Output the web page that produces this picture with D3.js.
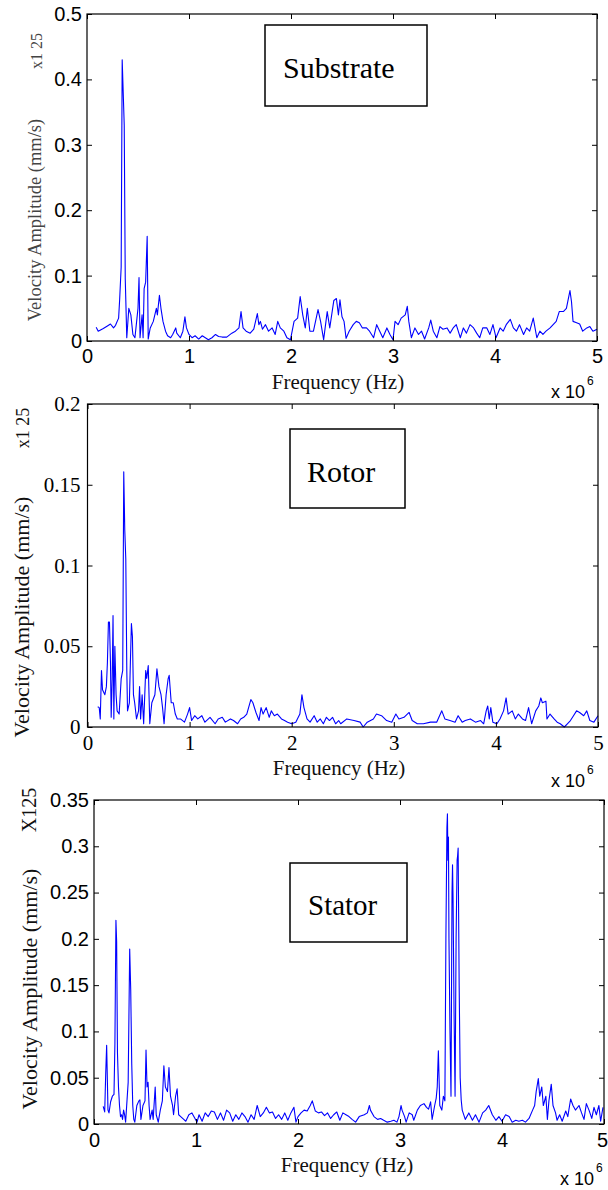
<!DOCTYPE html>
<html>
<head>
<meta charset="utf-8">
<script src="https://cdn.jsdelivr.net/npm/d3@7"></script>
<style>
  body { margin: 0; background: #fff; }
</style>
</head>
<body>
<svg id="chart" width="608" height="1190"></svg>
<script>
// frequency in units of 1e6 Hz, amplitude in mm/s
const substrateSpectrum = [
  [0.09,0.021],[0.11,0.015],[0.16,0.019],[0.2,0.023],[0.23,0.026],[0.26,0.02],[0.28,0.024],[0.29,0.028],
  [0.31,0.035],[0.32,0.063],[0.335,0.113],[0.345,0.43],[0.355,0.38],[0.365,0.33],[0.375,0.095],[0.39,0.005],
  [0.41,0.05],[0.43,0.04],[0.45,0.01],[0.47,0.005],[0.49,0.035],[0.5,0.05],[0.51,0.097],[0.52,0.005],
  [0.54,0.04],[0.55,0.005],[0.56,0.08],[0.575,0.09],[0.59,0.16],[0.6,0.003],[0.62,0.02],[0.65,0.03],
  [0.68,0.05],[0.69,0.04],[0.71,0.07],[0.725,0.05],[0.745,0.03],[0.77,0.015],[0.79,0.008],[0.82,0.005],
  [0.84,0.01],[0.87,0.02],[0.88,0.012],[0.915,0.005],[0.94,0.015],[0.96,0.037],[0.975,0.02],[1.0,0.01],
  [1.03,0.005],[1.06,0.008],[1.095,0.003],[1.13,0.008],[1.16,0.005],[1.19,0.002],[1.225,0.005],[1.26,0.01],
  [1.29,0.007],[1.325,0.006],[1.37,0.006],[1.42,0.012],[1.455,0.015],[1.49,0.02],[1.51,0.045],[1.53,0.02],
  [1.56,0.015],[1.6,0.012],[1.635,0.018],[1.67,0.042],[1.685,0.025],[1.7,0.03],[1.72,0.018],[1.75,0.025],
  [1.78,0.015],[1.815,0.02],[1.845,0.01],[1.87,0.03],[1.895,0.02],[1.93,0.015],[1.96,0.005],[1.995,0.002],
  [2.03,0.03],[2.065,0.035],[2.09,0.068],[2.115,0.04],[2.14,0.02],[2.16,0.05],[2.185,0.015],[2.22,0.015],
  [2.265,0.048],[2.29,0.03],[2.32,0.002],[2.355,0.045],[2.38,0.02],[2.42,0.062],[2.445,0.065],[2.465,0.04],
  [2.48,0.063],[2.5,0.037],[2.52,0.03],[2.54,0.004],[2.57,0.015],[2.61,0.025],[2.64,0.03],[2.67,0.028],
  [2.7,0.02],[2.74,0.02],[2.77,0.015],[2.81,0.005],[2.84,0.025],[2.87,0.015],[2.9,0.005],[2.94,0.02],
  [2.97,0.01],[3.0,0.002],[3.02,0.03],[3.05,0.025],[3.08,0.035],[3.12,0.04],[3.14,0.053],[3.155,0.03],
  [3.18,0.005],[3.215,0.02],[3.25,0.01],[3.28,0.015],[3.31,0.003],[3.35,0.02],[3.37,0.032],[3.395,0.015],
  [3.43,0.005],[3.46,0.022],[3.49,0.018],[3.53,0.02],[3.56,0.012],[3.59,0.02],[3.62,0.025],[3.66,0.005],
  [3.69,0.02],[3.72,0.012],[3.755,0.025],[3.79,0.02],[3.82,0.012],[3.85,0.005],[3.88,0.02],[3.92,0.02],
  [3.95,0.01],[3.98,0.025],[4.01,0.005],[4.05,0.02],[4.08,0.015],[4.11,0.025],[4.15,0.033],[4.18,0.02],
  [4.21,0.015],[4.24,0.025],[4.28,0.01],[4.31,0.02],[4.34,0.015],[4.375,0.035],[4.41,0.005],[4.44,0.015],
  [4.47,0.01],[4.5,0.015],[4.54,0.02],[4.57,0.025],[4.6,0.03],[4.63,0.045],[4.67,0.045],[4.7,0.05],
  [4.735,0.077],[4.75,0.06],[4.765,0.03],[4.8,0.028],[4.83,0.026],[4.86,0.015],[4.9,0.02],[4.93,0.022],
  [4.96,0.015],[5.0,0.018]
];

const rotorSpectrum = [
  [0.1,0.0125],[0.115,0.012],[0.125,0.005],[0.137,0.035],[0.147,0.023],[0.17,0.02],[0.185,0.025],[0.195,0.04],
  [0.205,0.065],[0.215,0.065],[0.225,0.04],[0.232,0.006],[0.242,0.03],[0.25,0.069],[0.258,0.005],[0.268,0.05],
  [0.28,0.02],[0.29,0.01],[0.31,0.008],[0.33,0.03],[0.345,0.035],[0.355,0.158],[0.365,0.122],[0.375,0.104],
  [0.385,0.035],[0.392,0.01],[0.41,0.015],[0.42,0.04],[0.43,0.064],[0.44,0.056],[0.45,0.02],[0.462,0.015],
  [0.48,0.005],[0.5,0.01],[0.51,0.025],[0.52,0.005],[0.535,0.02],[0.55,0.002],[0.57,0.035],[0.58,0.03],
  [0.595,0.038],[0.61,0.002],[0.63,0.015],[0.66,0.02],[0.68,0.036],[0.7,0.025],[0.72,0.02],[0.735,0.012],
  [0.75,0.002],[0.77,0.02],[0.79,0.03],[0.8,0.032],[0.82,0.015],[0.84,0.015],[0.86,0.008],[0.88,0.005],
  [0.91,0.005],[0.95,0.003],[0.98,0.008],[1.0,0.012],[1.02,0.004],[1.05,0.007],[1.08,0.005],[1.12,0.007],
  [1.15,0.003],[1.2,0.006],[1.25,0.002],[1.28,0.005],[1.32,0.006],[1.35,0.003],[1.4,0.005],[1.43,0.004],
  [1.47,0.002],[1.5,0.005],[1.53,0.006],[1.56,0.008],[1.6,0.017],[1.62,0.015],[1.65,0.009],[1.68,0.004],
  [1.7,0.012],[1.72,0.008],[1.75,0.012],[1.78,0.006],[1.8,0.01],[1.83,0.007],[1.86,0.008],[1.9,0.005],
  [1.93,0.004],[1.96,0.003],[2.0,0.002],[2.04,0.003],[2.08,0.008],[2.1,0.02],[2.12,0.012],[2.15,0.005],
  [2.18,0.003],[2.22,0.007],[2.25,0.003],[2.28,0.005],[2.31,0.002],[2.34,0.006],[2.37,0.004],[2.4,0.006],
  [2.43,0.002],[2.46,0.004],[2.48,0.002],[2.54,0.005],[2.61,0.004],[2.67,0.003],[2.7,0.0],[2.74,0.003],
  [2.8,0.005],[2.83,0.008],[2.88,0.007],[2.93,0.004],[2.98,0.003],[3.02,0.008],[3.05,0.005],[3.1,0.006],
  [3.15,0.009],[3.18,0.004],[3.23,0.002],[3.29,0.002],[3.36,0.003],[3.42,0.003],[3.47,0.01],[3.5,0.005],
  [3.55,0.004],[3.6,0.003],[3.63,0.007],[3.67,0.003],[3.7,0.004],[3.75,0.005],[3.8,0.003],[3.85,0.004],
  [3.88,0.002],[3.905,0.01],[3.92,0.013],[3.935,0.005],[3.95,0.012],[3.97,0.003],[4.01,0.002],[4.04,0.005],
  [4.075,0.01],[4.1,0.018],[4.12,0.008],[4.16,0.01],[4.19,0.005],[4.22,0.008],[4.26,0.005],[4.29,0.004],
  [4.32,0.012],[4.35,0.002],[4.39,0.01],[4.42,0.013],[4.44,0.018],[4.455,0.015],[4.49,0.016],[4.5,0.005],
  [4.53,0.008],[4.57,0.005],[4.6,0.003],[4.63,0.002],[4.67,0.0],[4.7,0.002],[4.73,0.004],[4.76,0.007],
  [4.79,0.01],[4.82,0.009],[4.86,0.007],[4.89,0.01],[4.92,0.004],[4.96,0.003],[5.0,0.007]
];

const statorSpectrum = [
  [0.09,0.019],[0.105,0.013],[0.115,0.055],[0.124,0.085],[0.137,0.015],[0.147,0.012],[0.163,0.024],[0.18,0.03],
  [0.196,0.032],[0.205,0.087],[0.215,0.22],[0.222,0.197],[0.23,0.077],[0.24,0.04],[0.25,0.02],[0.26,0.008],
  [0.27,0.01],[0.28,0.005],[0.29,0.015],[0.3,0.01],[0.31,0.002],[0.335,0.045],[0.35,0.189],[0.36,0.145],
  [0.37,0.065],[0.38,0.02],[0.39,0.005],[0.4,0.002],[0.42,0.02],[0.44,0.025],[0.45,0.026],[0.46,0.005],
  [0.48,0.02],[0.5,0.025],[0.51,0.08],[0.52,0.04],[0.53,0.045],[0.54,0.02],[0.55,0.005],[0.57,0.015],
  [0.58,0.005],[0.6,0.04],[0.61,0.01],[0.63,0.002],[0.65,0.015],[0.67,0.025],[0.685,0.063],[0.7,0.04],
  [0.72,0.035],[0.735,0.061],[0.75,0.03],[0.77,0.02],[0.78,0.01],[0.8,0.03],[0.815,0.038],[0.83,0.01],
  [0.85,0.008],[0.88,0.005],[0.9,0.003],[0.93,0.01],[0.96,0.012],[0.99,0.006],[1.01,0.002],[1.03,0.01],
  [1.06,0.003],[1.09,0.012],[1.12,0.008],[1.15,0.014],[1.18,0.013],[1.21,0.005],[1.24,0.012],[1.27,0.004],
  [1.3,0.015],[1.33,0.012],[1.36,0.003],[1.39,0.01],[1.42,0.005],[1.45,0.012],[1.48,0.008],[1.51,0.002],
  [1.54,0.01],[1.57,0.005],[1.6,0.02],[1.63,0.008],[1.66,0.012],[1.69,0.018],[1.72,0.012],[1.75,0.013],
  [1.78,0.006],[1.81,0.01],[1.84,0.005],[1.87,0.012],[1.9,0.004],[1.93,0.012],[1.96,0.018],[1.98,0.002],
  [2.0,0.008],[2.03,0.012],[2.06,0.015],[2.09,0.014],[2.12,0.02],[2.14,0.025],[2.17,0.014],[2.2,0.012],
  [2.23,0.013],[2.26,0.009],[2.29,0.012],[2.32,0.006],[2.35,0.01],[2.38,0.013],[2.41,0.004],[2.44,0.012],
  [2.47,0.01],[2.5,0.008],[2.53,0.005],[2.565,0.002],[2.6,0.008],[2.65,0.01],[2.68,0.012],[2.7,0.02],
  [2.71,0.015],[2.745,0.008],[2.78,0.005],[2.81,0.006],[2.84,0.004],[2.875,0.002],[2.91,0.003],[2.94,0.004],
  [2.97,0.002],[2.99,0.008],[3.01,0.02],[3.02,0.015],[3.045,0.008],[3.06,0.002],[3.09,0.012],[3.12,0.01],
  [3.135,0.004],[3.17,0.015],[3.2,0.02],[3.235,0.022],[3.26,0.018],[3.28,0.016],[3.3,0.024],[3.315,0.005],
  [3.34,0.02],[3.355,0.028],[3.365,0.04],[3.376,0.079],[3.39,0.02],[3.41,0.015],[3.425,0.03],[3.44,0.025],
  [3.45,0.2],[3.46,0.32],[3.465,0.335],[3.47,0.285],[3.475,0.31],[3.48,0.2],[3.49,0.1],[3.5,0.03],
  [3.51,0.25],[3.515,0.28],[3.52,0.245],[3.53,0.12],[3.54,0.03],[3.55,0.2],[3.56,0.285],[3.565,0.29],
  [3.57,0.298],[3.58,0.15],[3.59,0.05],[3.6,0.026],[3.61,0.015],[3.64,0.005],[3.675,0.012],[3.71,0.004],
  [3.74,0.01],[3.775,0.002],[3.81,0.012],[3.84,0.015],[3.87,0.02],[3.905,0.01],[3.94,0.004],[3.97,0.008],
  [4.0,0.003],[4.035,0.01],[4.07,0.008],[4.1,0.002],[4.135,0.004],[4.165,0.003],[4.2,0.004],[4.23,0.002],
  [4.265,0.006],[4.3,0.015],[4.32,0.02],[4.335,0.035],[4.356,0.049],[4.37,0.03],[4.39,0.04],[4.405,0.02],
  [4.43,0.03],[4.445,0.005],[4.46,0.025],[4.483,0.043],[4.5,0.02],[4.525,0.012],[4.54,0.004],[4.565,0.01],
  [4.59,0.003],[4.625,0.014],[4.645,0.008],[4.673,0.027],[4.696,0.02],[4.72,0.015],[4.755,0.02],[4.78,0.012],
  [4.804,0.005],[4.827,0.022],[4.853,0.015],[4.88,0.006],[4.902,0.018],[4.925,0.01],[4.95,0.02],[4.967,0.003],
  [4.99,0.018]
];

const xTicks = [0, 1, 2, 3, 4, 5];
const substrateTicks = [0, 0.1, 0.2, 0.3, 0.4, 0.5];
const rotorTicks = [0, 0.05, 0.1, 0.15, 0.2];
const statorTicks = [0, 0.05, 0.1, 0.15, 0.2, 0.25, 0.3, 0.35];

const SERIF = "Liberation Serif, Tinos, DejaVu Serif, Noto Serif, serif";
const SANS = "Liberation Sans, Arial, sans-serif";

const svg = d3.select("#chart");

// one matlab style panel: boxed axes, inward ticks on all four sides
function drawPanel(p) {
    var x = d3.scaleLinear().domain([0, 5]).range([p.left, p.right]);
    var y = d3.scaleLinear().domain([0, p.ymax]).range([p.bottom, p.top]);
    var g = svg.append("g").attr("class", "panel");

    g.append("path")
        .datum(p.data)
        .attr("fill", "none")
        .attr("stroke", "#0000ff")
        .attr("stroke-width", 1.1)
        .attr("stroke-linejoin", "round")
        .attr("d", d3.line().x(d => x(d[0])).y(d => y(d[1])));

    var bottom = g.append("g")
        .attr("transform", "translate(0," + p.bottom + ")")
        .call(d3.axisBottom(x).tickValues(xTicks).tickFormat(d => String(d))
            .tickSizeInner(-5).tickSizeOuter(0).tickPadding(p.xPad));
    var top = g.append("g")
        .attr("transform", "translate(0," + p.top + ")")
        .call(d3.axisTop(x).tickValues(xTicks).tickFormat("").tickSizeInner(-5).tickSizeOuter(0));
    var left = g.append("g")
        .attr("transform", "translate(" + p.left + ",0)")
        .call(d3.axisLeft(y).tickValues(p.yTicks).tickFormat(d => String(d))
            .tickSizeInner(-5).tickSizeOuter(0).tickPadding(p.yPad));
    var right = g.append("g")
        .attr("transform", "translate(" + p.right + ",0)")
        .call(d3.axisRight(y).tickValues(p.yTicks).tickFormat("").tickSizeInner(-5).tickSizeOuter(0));

    [bottom, top, left, right].forEach(a => {
        a.attr("font-family", null).attr("font-size", null);
        a.select(".domain").remove();
        a.selectAll("line").attr("stroke", "#000").attr("stroke-width", 1);
        a.selectAll("text")
            .style("font-family", p.tickFont)
            .style("font-size", p.tickSize + "px")
            .attr("fill", "#000");
    });
    // the last x label sits on the page edge, keep it inside
    bottom.selectAll(".tick text").filter(d => d === 5).attr("dx", p.lastDx);

    g.append("rect")
        .attr("x", p.left).attr("y", p.top)
        .attr("width", p.right - p.left).attr("height", p.bottom - p.top)
        .attr("fill", "none").attr("stroke", "#000").attr("stroke-width", 1.2);

    // label box inside the plot
    g.append("rect")
        .attr("x", p.box[0]).attr("y", p.box[1])
        .attr("width", p.box[2]).attr("height", p.box[3])
        .attr("fill", "#fff").attr("stroke", "#000").attr("stroke-width", 1.5);
    g.append("text")
        .attr("x", p.nameX).attr("y", p.nameY)
        .style("font-family", SERIF).style("font-size", p.nameSize + "px")
        .attr("fill", "#000")
        .text(p.name);

    // axis titles
    g.append("text")
        .attr("transform", "translate(" + p.ylabX + "," + p.ylabY + ") rotate(-90)")
        .attr("dy", "0.35em")
        .attr("text-anchor", "middle")
        .style("font-family", SERIF).style("font-size", p.ylabSize + "px")
        .attr("fill", p.ylabColor)
        .text("Velocity Amplitude (mm/s)");
    g.append("text")
        .attr("transform", "translate(" + p.noteX + "," + p.noteY + ") rotate(-90)")
        .attr("dy", "0.35em")
        .attr("text-anchor", "middle")
        .style("font-family", SERIF).style("font-size", p.noteSize + "px")
        .attr("fill", p.ylabColor)
        .text(p.note);

    g.append("text")
        .attr("x", p.xlabX).attr("y", p.xlabY)
        .attr("text-anchor", "middle")
        .style("font-family", SERIF).style("font-size", "21px")
        .attr("fill", "#111")
        .text("Frequency (Hz)");

    var ex = g.append("text")
        .attr("x", p.expX).attr("y", p.expY)
        .style("font-family", SANS).style("font-size", "18px")
        .attr("fill", "#000")
        .text("x 10");
    ex.append("tspan")
        .attr("dx", 2).attr("dy", -13)
        .style("font-size", "12px")
        .text("6");
}

drawPanel({
    data: substrateSpectrum, ymax: 0.5, yTicks: substrateTicks,
    left: 87, right: 597, top: 14, bottom: 341,
    tickFont: SANS, tickSize: 20, xPad: 8, yPad: 5, lastDx: 0,
    box: [265, 25, 162, 81], name: "Substrate", nameX: 283, nameY: 78, nameSize: 30,
    ylabX: 35, ylabY: 220, ylabSize: 18.5, ylabColor: "#444",
    note: "x1 25", noteX: 36, noteY: 51, noteSize: 16,
    xlabX: 338, xlabY: 389, expX: 551, expY: 398
});

drawPanel({
    data: rotorSpectrum, ymax: 0.2, yTicks: rotorTicks,
    left: 87.5, right: 598, top: 404, bottom: 727,
    tickFont: SERIF, tickSize: 21, xPad: 8, yPad: 7, lastDx: 0,
    box: [290, 429, 115, 79], name: "Rotor", nameX: 307, nameY: 482, nameSize: 30,
    ylabX: 21, ylabY: 617, ylabSize: 22, ylabColor: "#111",
    note: "x1 25", noteX: 23, noteY: 428, noteSize: 18,
    xlabX: 339, xlabY: 775, expX: 551, expY: 787
});

drawPanel({
    data: statorSpectrum, ymax: 0.35, yTicks: statorTicks,
    left: 94, right: 604, top: 800, bottom: 1124,
    tickFont: SANS, tickSize: 20, xPad: 9, yPad: 5, lastDx: -2,
    box: [290, 863, 117, 79], name: "Stator", nameX: 308, nameY: 915, nameSize: 29,
    ylabX: 29, ylabY: 989, ylabSize: 22, ylabColor: "#111",
    note: "X125", noteX: 29, noteY: 810, noteSize: 20,
    xlabX: 347, xlabY: 1172, expX: 560, expY: 1185
});
</script>
</body>
</html>
